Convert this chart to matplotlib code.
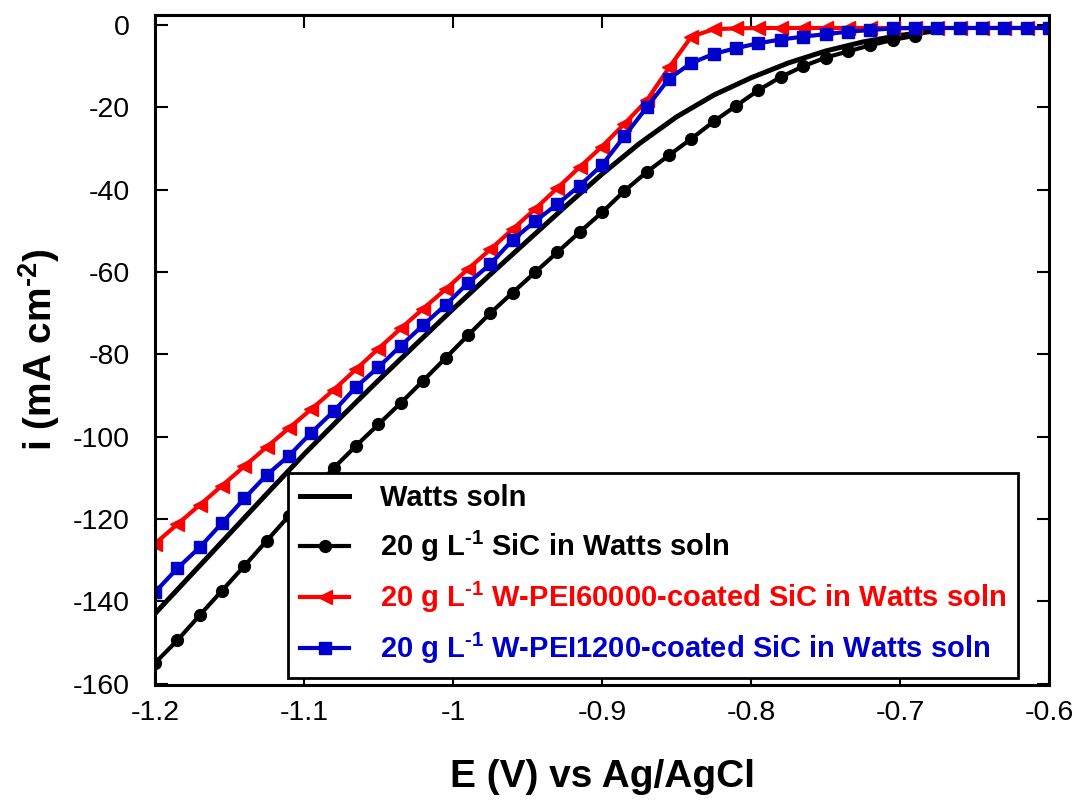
import matplotlib
matplotlib.use("Agg")
import matplotlib.pyplot as plt
import numpy as np

plt.rcParams['font.family'] = ['Liberation Sans', 'DejaVu Sans']
plt.rcParams['mathtext.fontset'] = 'custom'
plt.rcParams['mathtext.rm'] = 'Liberation Sans:bold'
plt.rcParams['mathtext.default'] = 'regular'
plt.rcParams['axes.unicode_minus'] = False

# Watts bath only (no markers)
e_watts = [-1.2, -1.175, -1.15, -1.125, -1.1, -1.075, -1.05, -1.025, -1.0, -0.975,
           -0.95, -0.925, -0.9, -0.875, -0.85, -0.825, -0.8, -0.775, -0.75, -0.725,
           -0.7, -0.68]
i_watts = [-143.0, -133.3, -123.6, -113.9, -104.3, -95.2, -86.3, -77.6, -69.0, -60.6,
           -52.4, -44.2, -36.2, -28.8, -22.3, -17.0, -12.8, -9.2, -6.3, -4.1,
           -2.5, -1.6]

# potentials of the marked scans, 15 mV apart
e_scan = [round(-1.2 + 0.015 * k, 3) for k in range(41)]

i_sic = [-155.0, -149.5, -143.4, -137.4, -131.4, -125.3, -119.2, -113.4, -107.6, -102.2,
         -97.0, -91.8, -86.4, -80.9, -75.4, -70.0, -65.0, -60.1, -55.2, -50.3,
         -45.5, -40.3, -35.7, -31.6, -27.6, -23.4, -19.6, -15.8, -12.6, -10.0,
         -7.9, -6.4, -4.9, -3.6, -2.6]

i_pei60000 = [-126.0, -121.3, -116.6, -111.9, -107.2, -102.5, -97.9, -93.3, -88.6, -83.6,
              -78.6, -73.7, -68.9, -64.2, -59.3, -54.5, -49.6, -44.7, -39.6, -34.5,
              -29.5, -24.0, -18.3, -10.3, -2.8, -1.0, -0.8, -0.7, -0.7, -0.7,
              -0.7, -0.7, -0.7, -0.7, -0.7, -0.7, -0.7, -0.7, -0.7, -0.7, -0.7]

i_pei1200 = [-137.8, -132.0, -126.9, -121.0, -115.0, -109.3, -104.6, -99.0, -93.8, -87.9,
             -83.1, -77.9, -72.9, -68.0, -62.7, -58.1, -52.2, -47.7, -43.5, -39.0,
             -34.0, -27.0, -20.0, -13.0, -9.2, -7.0, -5.6, -4.4, -3.5, -2.8,
             -2.2, -1.6, -1.2, -0.8, -0.7, -0.7, -0.7, -0.7, -0.7, -0.7, -0.7]

labels = ['Watts soln',
          r'20 g L$^{\text{-}1}$ SiC in Watts soln',
          r'20 g L$^{\text{-}1}$ W-PEI60000-coated SiC in Watts soln',
          r'20 g L$^{\text{-}1}$ W-PEI1200-coated SiC in Watts soln']
colors = ['black', 'black', '#ff0000', '#0000cc']

fig = plt.figure(figsize=(10.76, 8.01), dpi=100)
ax = fig.add_axes([0.144, 0.145, 0.831, 0.836])

ax.plot(e_watts, i_watts, color=colors[0], lw=3.6, label=labels[0])
ax.plot(e_scan[:len(i_sic)], i_sic, color=colors[1], lw=3.0, marker='o', ms=8.5,
        label=labels[1])
ax.plot(e_scan, i_pei60000, color=colors[2], lw=3.0, marker='<', ms=10,
        label=labels[2])
ax.plot(e_scan, i_pei1200, color=colors[3], lw=3.0, marker='s', ms=8.5,
        label=labels[3])

ax.set_xlim(-1.2, -0.6)
ax.set_ylim(-160.3, 2.4)
ax.set_xticks([-1.2, -1.1, -1.0, -0.9, -0.8, -0.7, -0.6])
ax.set_xticklabels(['-1.2', '-1.1', '-1', '-0.9', '-0.8', '-0.7', '-0.6'])
ax.set_yticks(np.arange(-160, 1, 20))

ax.tick_params(axis='both', direction='in', length=9, width=1.5, labelsize=20.5,
               top=True, right=True)
ax.tick_params(axis='x', pad=11)
ax.tick_params(axis='y', pad=18)
for s in ax.spines.values():
    s.set_linewidth(2.2)

ax.set_xlabel('E (V) vs Ag/AgCl', fontsize=28, fontweight='bold', labelpad=24)
ax.set_ylabel(r'i (mA cm$^{\text{-}2}$)', fontsize=28, fontweight='bold', labelpad=8)

leg = ax.legend(loc='lower left', bbox_to_anchor=(0.149, 0.0104), borderaxespad=0,
                prop={'weight': 'bold', 'size': 21}, frameon=True, framealpha=1,
                fancybox=False, edgecolor='black', handlelength=1.7,
                handletextpad=1.05, labelspacing=0.55, borderpad=0.4)
leg.get_frame().set_linewidth(2.0)
for txt, c in zip(leg.get_texts(), colors):
    txt.set_color(c)

fig.savefig('out.png', dpi=100)
